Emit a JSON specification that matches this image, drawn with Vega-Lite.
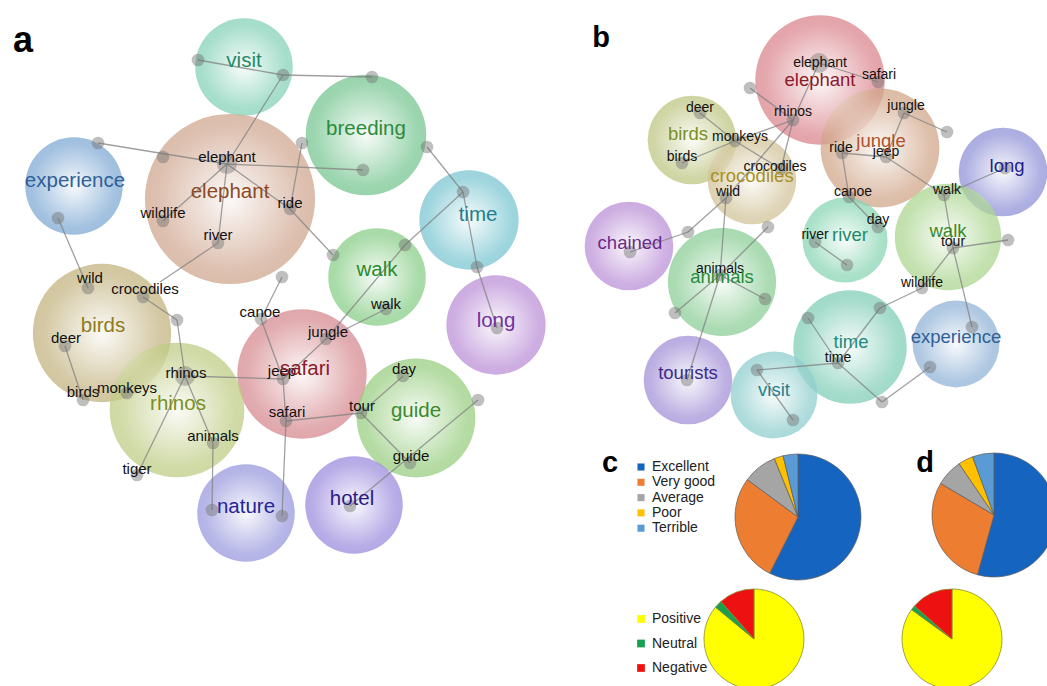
{
  "$schema": "https://vega.github.io/schema/vega-lite/v6.json",
  "width": 1047,
  "height": 686,
  "autosize": "none",
  "padding": 0,
  "background": "white",
  "config": {"view": {"stroke": null}, "text": {"font": "Liberation Sans"}},
  "datasets": {
    "bubbles": [
      {"id": "a-visit", "x": 244, "y": 67, "r": 55},
      {"id": "a-elephant", "x": 230, "y": 199, "r": 96},
      {"id": "a-breeding", "x": 366, "y": 135, "r": 68},
      {"id": "a-experience", "x": 74, "y": 186, "r": 55},
      {"id": "a-time", "x": 469, "y": 220, "r": 56},
      {"id": "a-walk", "x": 377, "y": 277, "r": 55},
      {"id": "a-long", "x": 496, "y": 325, "r": 56},
      {"id": "a-birds", "x": 102, "y": 333, "r": 78},
      {"id": "a-safari", "x": 302, "y": 374, "r": 73},
      {"id": "a-rhinos", "x": 177, "y": 410, "r": 76},
      {"id": "a-guide", "x": 416, "y": 418, "r": 67},
      {"id": "a-nature", "x": 246, "y": 513, "r": 55},
      {"id": "a-hotel", "x": 354, "y": 505, "r": 55},
      {"id": "b-birds", "x": 692, "y": 140, "r": 50},
      {"id": "b-crocodiles", "x": 752, "y": 180, "r": 50},
      {"id": "b-elephant", "x": 820, "y": 80, "r": 73},
      {"id": "b-jungle", "x": 880, "y": 148, "r": 67},
      {"id": "b-long", "x": 1003, "y": 172, "r": 50},
      {"id": "b-chained", "x": 629, "y": 246, "r": 50},
      {"id": "b-animals", "x": 722, "y": 282, "r": 61},
      {"id": "b-river", "x": 845, "y": 240, "r": 48},
      {"id": "b-walk", "x": 948, "y": 237, "r": 60},
      {"id": "b-time", "x": 850, "y": 347, "r": 64},
      {"id": "b-experience", "x": 956, "y": 344, "r": 49},
      {"id": "b-tourists", "x": 688, "y": 380, "r": 50},
      {"id": "b-visit", "x": 774, "y": 395, "r": 49}
    ],
    "topics": [
      {"id": "a-visit", "word": "visit", "x": 244, "y": 61},
      {"id": "a-breeding", "word": "breeding", "x": 366, "y": 129},
      {"id": "a-experience", "word": "experience", "x": 75, "y": 181},
      {"id": "a-elephant", "word": "elephant", "x": 230, "y": 192},
      {"id": "a-time", "word": "time", "x": 478, "y": 215},
      {"id": "a-walk", "word": "walk", "x": 377, "y": 270},
      {"id": "a-long", "word": "long", "x": 496, "y": 321},
      {"id": "a-birds", "word": "birds", "x": 103, "y": 326},
      {"id": "a-safari", "word": "safari", "x": 305, "y": 369},
      {"id": "a-rhinos", "word": "rhinos", "x": 178, "y": 404},
      {"id": "a-guide", "word": "guide", "x": 416, "y": 411},
      {"id": "a-nature", "word": "nature", "x": 246, "y": 507},
      {"id": "a-hotel", "word": "hotel", "x": 352, "y": 499},
      {"id": "b-elephant", "word": "elephant", "x": 820, "y": 80},
      {"id": "b-jungle", "word": "jungle", "x": 881, "y": 141},
      {"id": "b-birds", "word": "birds", "x": 688, "y": 134},
      {"id": "b-crocodiles", "word": "crocodiles", "x": 752, "y": 176},
      {"id": "b-long", "word": "long", "x": 1007, "y": 166},
      {"id": "b-chained", "word": "chained", "x": 630, "y": 243},
      {"id": "b-animals", "word": "animals", "x": 722, "y": 277},
      {"id": "b-river", "word": "river", "x": 850, "y": 235},
      {"id": "b-walk", "word": "walk", "x": 948, "y": 231},
      {"id": "b-time", "word": "time", "x": 851, "y": 342},
      {"id": "b-experience", "word": "experience", "x": 956, "y": 337},
      {"id": "b-tourists", "word": "tourists", "x": 688, "y": 373},
      {"id": "b-visit", "word": "visit", "x": 774, "y": 390}
    ],
    "words": [
      {"panel": "a", "word": "elephant", "x": 227, "y": 157},
      {"panel": "a", "word": "wildlife", "x": 163, "y": 213},
      {"panel": "a", "word": "ride", "x": 290, "y": 203},
      {"panel": "a", "word": "river", "x": 218, "y": 235},
      {"panel": "a", "word": "wild", "x": 90, "y": 278},
      {"panel": "a", "word": "crocodiles", "x": 145, "y": 289},
      {"panel": "a", "word": "canoe", "x": 260, "y": 312},
      {"panel": "a", "word": "walk", "x": 386, "y": 304},
      {"panel": "a", "word": "jungle", "x": 328, "y": 332},
      {"panel": "a", "word": "deer", "x": 66, "y": 338},
      {"panel": "a", "word": "birds", "x": 83, "y": 392},
      {"panel": "a", "word": "monkeys", "x": 127, "y": 388},
      {"panel": "a", "word": "rhinos", "x": 186, "y": 373},
      {"panel": "a", "word": "jeep", "x": 282, "y": 371},
      {"panel": "a", "word": "safari", "x": 287, "y": 412},
      {"panel": "a", "word": "animals", "x": 213, "y": 436},
      {"panel": "a", "word": "tiger", "x": 137, "y": 469},
      {"panel": "a", "word": "day", "x": 404, "y": 369},
      {"panel": "a", "word": "tour", "x": 362, "y": 406},
      {"panel": "a", "word": "guide", "x": 411, "y": 456},
      {"panel": "b", "word": "elephant", "x": 820, "y": 63},
      {"panel": "b", "word": "safari", "x": 879, "y": 75},
      {"panel": "b", "word": "rhinos", "x": 793, "y": 112},
      {"panel": "b", "word": "jungle", "x": 906, "y": 106},
      {"panel": "b", "word": "deer", "x": 700, "y": 108},
      {"panel": "b", "word": "monkeys", "x": 740, "y": 137},
      {"panel": "b", "word": "birds", "x": 682, "y": 157},
      {"panel": "b", "word": "ride", "x": 841, "y": 148},
      {"panel": "b", "word": "jeep", "x": 886, "y": 152},
      {"panel": "b", "word": "crocodiles", "x": 775, "y": 167},
      {"panel": "b", "word": "wild", "x": 728, "y": 192},
      {"panel": "b", "word": "canoe", "x": 853, "y": 192},
      {"panel": "b", "word": "walk", "x": 947, "y": 190},
      {"panel": "b", "word": "day", "x": 878, "y": 220},
      {"panel": "b", "word": "river", "x": 815, "y": 235},
      {"panel": "b", "word": "tour", "x": 953, "y": 242},
      {"panel": "b", "word": "wildlife", "x": 922, "y": 283},
      {"panel": "b", "word": "animals", "x": 720, "y": 269},
      {"panel": "b", "word": "time", "x": 838, "y": 358}
    ],
    "nodes": [
      {"x": 198, "y": 60, "hub": false}, {"x": 283, "y": 75, "hub": false}, {"x": 372, "y": 77, "hub": false},
      {"x": 98, "y": 143, "hub": false}, {"x": 163, "y": 157, "hub": false}, {"x": 227, "y": 164, "hub": true},
      {"x": 302, "y": 143, "hub": false}, {"x": 363, "y": 170, "hub": false}, {"x": 427, "y": 147, "hub": false},
      {"x": 463, "y": 192, "hub": false}, {"x": 58, "y": 218, "hub": false}, {"x": 163, "y": 221, "hub": false},
      {"x": 290, "y": 209, "hub": false}, {"x": 218, "y": 243, "hub": false}, {"x": 333, "y": 255, "hub": false},
      {"x": 405, "y": 245, "hub": false}, {"x": 477, "y": 267, "hub": false}, {"x": 497, "y": 328, "hub": false},
      {"x": 282, "y": 277, "hub": false}, {"x": 88, "y": 288, "hub": false}, {"x": 143, "y": 297, "hub": false},
      {"x": 177, "y": 320, "hub": false}, {"x": 261, "y": 319, "hub": false}, {"x": 386, "y": 309, "hub": false},
      {"x": 326, "y": 339, "hub": false}, {"x": 65, "y": 346, "hub": false}, {"x": 83, "y": 400, "hub": false},
      {"x": 127, "y": 393, "hub": false}, {"x": 185, "y": 376, "hub": true}, {"x": 283, "y": 379, "hub": false},
      {"x": 286, "y": 421, "hub": false}, {"x": 213, "y": 443, "hub": false}, {"x": 137, "y": 475, "hub": false},
      {"x": 403, "y": 376, "hub": false}, {"x": 361, "y": 413, "hub": false}, {"x": 478, "y": 400, "hub": false},
      {"x": 410, "y": 463, "hub": false}, {"x": 212, "y": 510, "hub": false}, {"x": 282, "y": 516, "hub": false},
      {"x": 350, "y": 506, "hub": false},
      {"x": 750, "y": 88, "hub": false}, {"x": 819, "y": 63, "hub": true}, {"x": 878, "y": 82, "hub": false},
      {"x": 793, "y": 120, "hub": false}, {"x": 904, "y": 113, "hub": false}, {"x": 947, "y": 132, "hub": false},
      {"x": 700, "y": 113, "hub": false}, {"x": 735, "y": 141, "hub": false}, {"x": 682, "y": 163, "hub": false},
      {"x": 842, "y": 153, "hub": false}, {"x": 886, "y": 157, "hub": false}, {"x": 781, "y": 169, "hub": false},
      {"x": 726, "y": 198, "hub": false}, {"x": 849, "y": 197, "hub": false}, {"x": 944, "y": 195, "hub": false},
      {"x": 768, "y": 227, "hub": false}, {"x": 688, "y": 232, "hub": false}, {"x": 630, "y": 252, "hub": false},
      {"x": 878, "y": 227, "hub": false}, {"x": 815, "y": 242, "hub": false}, {"x": 847, "y": 265, "hub": false},
      {"x": 953, "y": 248, "hub": false}, {"x": 1008, "y": 240, "hub": false}, {"x": 720, "y": 275, "hub": false},
      {"x": 765, "y": 299, "hub": false}, {"x": 675, "y": 313, "hub": false}, {"x": 922, "y": 288, "hub": false},
      {"x": 880, "y": 308, "hub": false}, {"x": 808, "y": 318, "hub": false}, {"x": 972, "y": 327, "hub": false},
      {"x": 838, "y": 363, "hub": false}, {"x": 757, "y": 370, "hub": false}, {"x": 687, "y": 380, "hub": false},
      {"x": 930, "y": 367, "hub": false}, {"x": 882, "y": 402, "hub": false}, {"x": 793, "y": 420, "hub": false},
      {"x": 1005, "y": 168, "hub": false}
    ],
    "edges": [
      {"x": 198, "y": 60, "x2": 283, "y2": 75}, {"x": 283, "y": 75, "x2": 372, "y2": 77},
      {"x": 283, "y": 75, "x2": 227, "y2": 164}, {"x": 98, "y": 143, "x2": 227, "y2": 164},
      {"x": 227, "y": 164, "x2": 363, "y2": 170}, {"x": 302, "y": 143, "x2": 290, "y2": 209},
      {"x": 227, "y": 164, "x2": 163, "y2": 221}, {"x": 227, "y": 164, "x2": 290, "y2": 209},
      {"x": 227, "y": 164, "x2": 218, "y2": 243}, {"x": 290, "y": 209, "x2": 333, "y2": 255},
      {"x": 218, "y": 243, "x2": 160, "y2": 282}, {"x": 58, "y": 218, "x2": 88, "y2": 288},
      {"x": 143, "y": 297, "x2": 177, "y2": 320}, {"x": 177, "y": 320, "x2": 185, "y2": 376},
      {"x": 427, "y": 147, "x2": 463, "y2": 192}, {"x": 463, "y": 192, "x2": 405, "y2": 245},
      {"x": 405, "y": 245, "x2": 326, "y2": 339}, {"x": 386, "y": 309, "x2": 326, "y2": 339},
      {"x": 463, "y": 192, "x2": 477, "y2": 267}, {"x": 477, "y": 267, "x2": 497, "y2": 328},
      {"x": 282, "y": 277, "x2": 261, "y2": 319}, {"x": 261, "y": 319, "x2": 283, "y2": 379},
      {"x": 283, "y": 379, "x2": 286, "y2": 421}, {"x": 286, "y": 421, "x2": 282, "y2": 516},
      {"x": 185, "y": 376, "x2": 283, "y2": 379}, {"x": 326, "y": 339, "x2": 283, "y2": 379},
      {"x": 65, "y": 346, "x2": 83, "y2": 400}, {"x": 185, "y": 376, "x2": 137, "y2": 475},
      {"x": 185, "y": 376, "x2": 213, "y2": 443}, {"x": 213, "y": 443, "x2": 212, "y2": 510},
      {"x": 286, "y": 421, "x2": 361, "y2": 413}, {"x": 361, "y": 413, "x2": 403, "y2": 376},
      {"x": 361, "y": 413, "x2": 410, "y2": 463}, {"x": 350, "y": 506, "x2": 478, "y2": 400},
      {"x": 750, "y": 88, "x2": 793, "y2": 120}, {"x": 819, "y": 63, "x2": 793, "y2": 120},
      {"x": 819, "y": 63, "x2": 878, "y2": 82}, {"x": 793, "y": 120, "x2": 735, "y2": 141},
      {"x": 793, "y": 120, "x2": 781, "y2": 169}, {"x": 793, "y": 120, "x2": 726, "y2": 198},
      {"x": 904, "y": 113, "x2": 947, "y2": 132}, {"x": 904, "y": 113, "x2": 886, "y2": 157},
      {"x": 842, "y": 153, "x2": 886, "y2": 157}, {"x": 842, "y": 153, "x2": 849, "y2": 197},
      {"x": 886, "y": 157, "x2": 944, "y2": 195}, {"x": 849, "y": 197, "x2": 878, "y2": 227},
      {"x": 944, "y": 195, "x2": 1005, "y2": 168}, {"x": 944, "y": 195, "x2": 953, "y2": 248},
      {"x": 953, "y": 248, "x2": 1008, "y2": 240}, {"x": 953, "y": 248, "x2": 922, "y2": 288},
      {"x": 953, "y": 248, "x2": 972, "y2": 327}, {"x": 922, "y": 288, "x2": 880, "y2": 308},
      {"x": 880, "y": 308, "x2": 838, "y2": 363}, {"x": 838, "y": 363, "x2": 757, "y2": 370},
      {"x": 838, "y": 363, "x2": 808, "y2": 318}, {"x": 838, "y": 363, "x2": 882, "y2": 402},
      {"x": 882, "y": 402, "x2": 930, "y2": 367}, {"x": 757, "y": 370, "x2": 793, "y2": 420},
      {"x": 726, "y": 198, "x2": 720, "y2": 275}, {"x": 726, "y": 198, "x2": 688, "y2": 232},
      {"x": 688, "y": 232, "x2": 630, "y2": 252}, {"x": 720, "y": 275, "x2": 675, "y2": 313},
      {"x": 720, "y": 275, "x2": 765, "y2": 299}, {"x": 720, "y": 275, "x2": 768, "y2": 227},
      {"x": 720, "y": 275, "x2": 687, "y2": 380}, {"x": 815, "y": 242, "x2": 847, "y2": 265},
      {"x": 700, "y": 113, "x2": 735, "y2": 141}, {"x": 682, "y": 163, "x2": 735, "y2": 141},
      {"x": 735, "y": 141, "x2": 781, "y2": 169}
    ],
    "pies": [
      {"pie": "c-top", "cat": "Excellent", "v": 57.4, "ord": 1},
      {"pie": "c-top", "cat": "Very good", "v": 27.7, "ord": 2},
      {"pie": "c-top", "cat": "Average", "v": 8.8, "ord": 3},
      {"pie": "c-top", "cat": "Poor", "v": 2.3, "ord": 4},
      {"pie": "c-top", "cat": "Terrible", "v": 3.8, "ord": 5},
      {"pie": "d-top", "cat": "Excellent", "v": 54.3, "ord": 1},
      {"pie": "d-top", "cat": "Very good", "v": 29.2, "ord": 2},
      {"pie": "d-top", "cat": "Average", "v": 7.0, "ord": 3},
      {"pie": "d-top", "cat": "Poor", "v": 3.9, "ord": 4},
      {"pie": "d-top", "cat": "Terrible", "v": 5.6, "ord": 5},
      {"pie": "c-bot", "cat": "Positive", "v": 86.0, "ord": 1},
      {"pie": "c-bot", "cat": "Neutral", "v": 2.5, "ord": 2},
      {"pie": "c-bot", "cat": "Negative", "v": 11.5, "ord": 3},
      {"pie": "d-bot", "cat": "Positive", "v": 85.0, "ord": 1},
      {"pie": "d-bot", "cat": "Neutral", "v": 1.5, "ord": 2},
      {"pie": "d-bot", "cat": "Negative", "v": 13.5, "ord": 3}
    ],
    "letters": [
      {"t": "a", "x": 23, "y": 52},
      {"t": "b", "x": 601, "y": 47},
      {"t": "c", "x": 610, "y": 472},
      {"t": "d", "x": 925, "y": 472}
    ]
  },
  "resolve": {"scale": {"color": "independent", "size": "independent"}},
  "layer": [
    {
      "data": {"name": "bubbles"},
      "mark": {"type": "circle", "opacity": 0.72},
      "encoding": {
        "x": {"field": "x", "type": "quantitative", "scale": {"domain": [0, 1047], "nice": false, "zero": false}, "axis": null},
        "y": {"field": "y", "type": "quantitative", "scale": {"domain": [0, 686], "nice": false, "zero": false, "reverse": true}, "axis": null},
        "size": {"field": "r", "type": "quantitative", "scale": {"type": "pow", "exponent": 2, "domain": [0, 100], "range": [0, 31416]}, "legend": null},
        "color": {"field": "id", "type": "nominal", "legend": null, "scale": {
          "domain": ["a-visit","a-breeding","a-experience","a-elephant","a-time","a-walk","a-long","a-birds","a-safari","a-rhinos","a-guide","a-nature","a-hotel","b-elephant","b-jungle","b-birds","b-crocodiles","b-long","b-chained","b-animals","b-river","b-walk","b-time","b-experience","b-tourists","b-visit"],
          "range": ["#80d0b4","#70c48c","#7aa6d2","#cfa48c","#74c4d0","#84cc84","#b98ad6","#c0b07a","#d4858a","#bccb80","#94cc7c","#9494dc","#9888dc","#d88088","#cfa284","#bcc47e","#d0c094","#8a8cd6","#b88cd6","#86cc92","#84d4b0","#a8d48a","#7cccb4","#8cb0d6","#a08cd6","#8acccc"]}}
      }
    },
    {
      "data": {"name": "bubbles"},
      "mark": {"type": "circle", "opacity": 1, "fill": {"gradient": "radial", "x1": 0.5, "y1": 0.5, "r1": 0, "x2": 0.5, "y2": 0.5, "r2": 0.5, "stops": [
        {"offset": 0, "color": "rgba(255,255,255,0.92)"},
        {"offset": 0.4, "color": "rgba(255,255,255,0.5)"},
        {"offset": 0.85, "color": "rgba(255,255,255,0.05)"},
        {"offset": 1, "color": "rgba(255,255,255,0)"}]}},
      "encoding": {
        "x": {"field": "x", "type": "quantitative", "axis": null},
        "y": {"field": "y", "type": "quantitative", "axis": null},
        "size": {"field": "r", "type": "quantitative", "scale": {"type": "pow", "exponent": 2, "domain": [0, 100], "range": [0, 31416]}, "legend": null}
      }
    },
    {
      "data": {"name": "edges"},
      "mark": {"type": "rule", "color": "#808080", "opacity": 0.75, "strokeWidth": 1.3},
      "encoding": {
        "x": {"field": "x", "type": "quantitative", "axis": null},
        "y": {"field": "y", "type": "quantitative", "axis": null},
        "x2": {"field": "x2"},
        "y2": {"field": "y2"}
      }
    },
    {
      "data": {"name": "nodes"},
      "transform": [{"filter": "!datum.hub"}],
      "mark": {"type": "circle", "color": "#707070", "opacity": 0.45, "size": 160},
      "encoding": {
        "x": {"field": "x", "type": "quantitative", "axis": null},
        "y": {"field": "y", "type": "quantitative", "axis": null}
      }
    },
    {
      "data": {"name": "nodes"},
      "transform": [{"filter": "datum.hub"}],
      "mark": {"type": "circle", "color": "#707070", "opacity": 0.4, "size": 400},
      "encoding": {
        "x": {"field": "x", "type": "quantitative", "axis": null},
        "y": {"field": "y", "type": "quantitative", "axis": null}
      }
    },
    {
      "data": {"name": "words"},
      "transform": [{"filter": "datum.panel === 'a'"}],
      "mark": {"type": "text", "fontSize": 15, "color": "#111", "align": "center", "baseline": "middle"},
      "encoding": {
        "x": {"field": "x", "type": "quantitative", "axis": null},
        "y": {"field": "y", "type": "quantitative", "axis": null},
        "text": {"field": "word"}
      }
    },
    {
      "data": {"name": "words"},
      "transform": [{"filter": "datum.panel === 'b'"}],
      "mark": {"type": "text", "fontSize": 14, "color": "#111", "align": "center", "baseline": "middle"},
      "encoding": {
        "x": {"field": "x", "type": "quantitative", "axis": null},
        "y": {"field": "y", "type": "quantitative", "axis": null},
        "text": {"field": "word"}
      }
    },
    {
      "data": {"name": "topics"},
      "transform": [{"filter": "indexof(datum.id, 'a-') === 0"}],
      "mark": {"type": "text", "fontSize": 20.5, "align": "center", "baseline": "middle"},
      "encoding": {
        "x": {"field": "x", "type": "quantitative", "axis": null},
        "y": {"field": "y", "type": "quantitative", "axis": null},
        "text": {"field": "word"},
        "color": {"field": "id", "type": "nominal", "legend": null, "scale": {
          "domain": ["a-visit","a-breeding","a-experience","a-elephant","a-time","a-walk","a-long","a-birds","a-safari","a-rhinos","a-guide","a-nature","a-hotel"],
          "range": ["#1f8a6a","#2d8a3c","#2f5f96","#8b4a25","#1f7f8f","#2a8a30","#7030a0","#8f7a20","#8b1a2a","#7a9020","#3a8a2a","#25259a","#2a1a80"]}}
      }
    },
    {
      "data": {"name": "topics"},
      "transform": [{"filter": "indexof(datum.id, 'b-') === 0"}],
      "mark": {"type": "text", "fontSize": 18.5, "align": "center", "baseline": "middle"},
      "encoding": {
        "x": {"field": "x", "type": "quantitative", "axis": null},
        "y": {"field": "y", "type": "quantitative", "axis": null},
        "text": {"field": "word"},
        "color": {"field": "id", "type": "nominal", "legend": null, "scale": {
          "domain": ["b-elephant","b-jungle","b-birds","b-crocodiles","b-long","b-chained","b-animals","b-river","b-walk","b-time","b-experience","b-tourists","b-visit"],
          "range": ["#8b1a2a","#b0502a","#7a9020","#a89020","#202090","#6a2a8a","#2a8a3a","#1f8a6a","#3a8a2a","#1f8a7a","#2f5f96","#3a2a8a","#1f7f8f"]}}
      }
    },
    {
      "data": {"name": "pies"},
      "transform": [{"filter": "datum.pie === 'c-top'"}],
      "mark": {"type": "arc", "radius": 63, "stroke": "#5a5a5a", "strokeWidth": 0.7},
      "encoding": {
        "x": {"datum": 798, "type": "quantitative", "axis": null},
        "y": {"datum": 517, "type": "quantitative", "axis": null},
        "theta": {"field": "v", "type": "quantitative", "stack": true},
        "order": {"field": "ord", "type": "quantitative"},
        "color": {"field": "cat", "type": "nominal", "scale": {"domain": ["Excellent", "Very good", "Average", "Poor", "Terrible"], "range": ["#1565c0", "#ed7d31", "#a5a5a5", "#ffc000", "#5b9bd5"]},
          "legend": {"orient": "none", "legendX": 634, "legendY": 460, "title": null, "symbolType": "square", "symbolSize": 50, "symbolStrokeWidth": 0, "labelFontSize": 14, "labelFont": "Liberation Sans", "labelColor": "#222", "rowPadding": 1.3, "labelOffset": 4}}
      }
    },
    {
      "data": {"name": "pies"},
      "transform": [{"filter": "datum.pie === 'd-top'"}],
      "mark": {"type": "arc", "radius": 62, "stroke": "#5a5a5a", "strokeWidth": 0.7},
      "encoding": {
        "x": {"datum": 994, "type": "quantitative", "axis": null},
        "y": {"datum": 515, "type": "quantitative", "axis": null},
        "theta": {"field": "v", "type": "quantitative", "stack": true},
        "order": {"field": "ord", "type": "quantitative"},
        "color": {"field": "cat", "type": "nominal", "legend": null, "scale": {"domain": ["Excellent", "Very good", "Average", "Poor", "Terrible"], "range": ["#1565c0", "#ed7d31", "#a5a5a5", "#ffc000", "#5b9bd5"]}}
      }
    },
    {
      "data": {"name": "pies"},
      "transform": [{"filter": "datum.pie === 'c-bot'"}],
      "mark": {"type": "arc", "radius": 50, "stroke": "#8a8a30", "strokeWidth": 0.8},
      "encoding": {
        "x": {"datum": 754, "type": "quantitative", "axis": null},
        "y": {"datum": 639, "type": "quantitative", "axis": null},
        "theta": {"field": "v", "type": "quantitative", "stack": true},
        "order": {"field": "ord", "type": "quantitative"},
        "color": {"field": "cat", "type": "nominal", "scale": {"domain": ["Positive", "Neutral", "Negative"], "range": ["#ffff00", "#16a050", "#ee1111"]},
          "legend": {"orient": "none", "legendX": 634, "legendY": 612, "title": null, "symbolType": "square", "symbolSize": 60, "symbolStrokeWidth": 0, "labelFontSize": 14, "labelFont": "Liberation Sans", "labelColor": "#222", "rowPadding": 10.5, "labelOffset": 4}}
      }
    },
    {
      "data": {"name": "pies"},
      "transform": [{"filter": "datum.pie === 'd-bot'"}],
      "mark": {"type": "arc", "radius": 50, "stroke": "#8a8a30", "strokeWidth": 0.8},
      "encoding": {
        "x": {"datum": 952, "type": "quantitative", "axis": null},
        "y": {"datum": 639, "type": "quantitative", "axis": null},
        "theta": {"field": "v", "type": "quantitative", "stack": true},
        "order": {"field": "ord", "type": "quantitative"},
        "color": {"field": "cat", "type": "nominal", "legend": null, "scale": {"domain": ["Positive", "Neutral", "Negative"], "range": ["#ffff00", "#16a050", "#ee1111"]}}
      }
    },
    {
      "data": {"name": "letters"},
      "transform": [{"filter": "datum.t === 'a'"}],
      "mark": {"type": "text", "fontSize": 36, "fontWeight": "bold", "color": "#000", "align": "center", "baseline": "alphabetic"},
      "encoding": {
        "x": {"field": "x", "type": "quantitative", "axis": null},
        "y": {"field": "y", "type": "quantitative", "axis": null},
        "text": {"field": "t"}
      }
    },
    {
      "data": {"name": "letters"},
      "transform": [{"filter": "datum.t !== 'a'"}],
      "mark": {"type": "text", "fontSize": 29, "fontWeight": "bold", "color": "#000", "align": "center", "baseline": "alphabetic"},
      "encoding": {
        "x": {"field": "x", "type": "quantitative", "axis": null},
        "y": {"field": "y", "type": "quantitative", "axis": null},
        "text": {"field": "t"}
      }
    }
  ]
}
